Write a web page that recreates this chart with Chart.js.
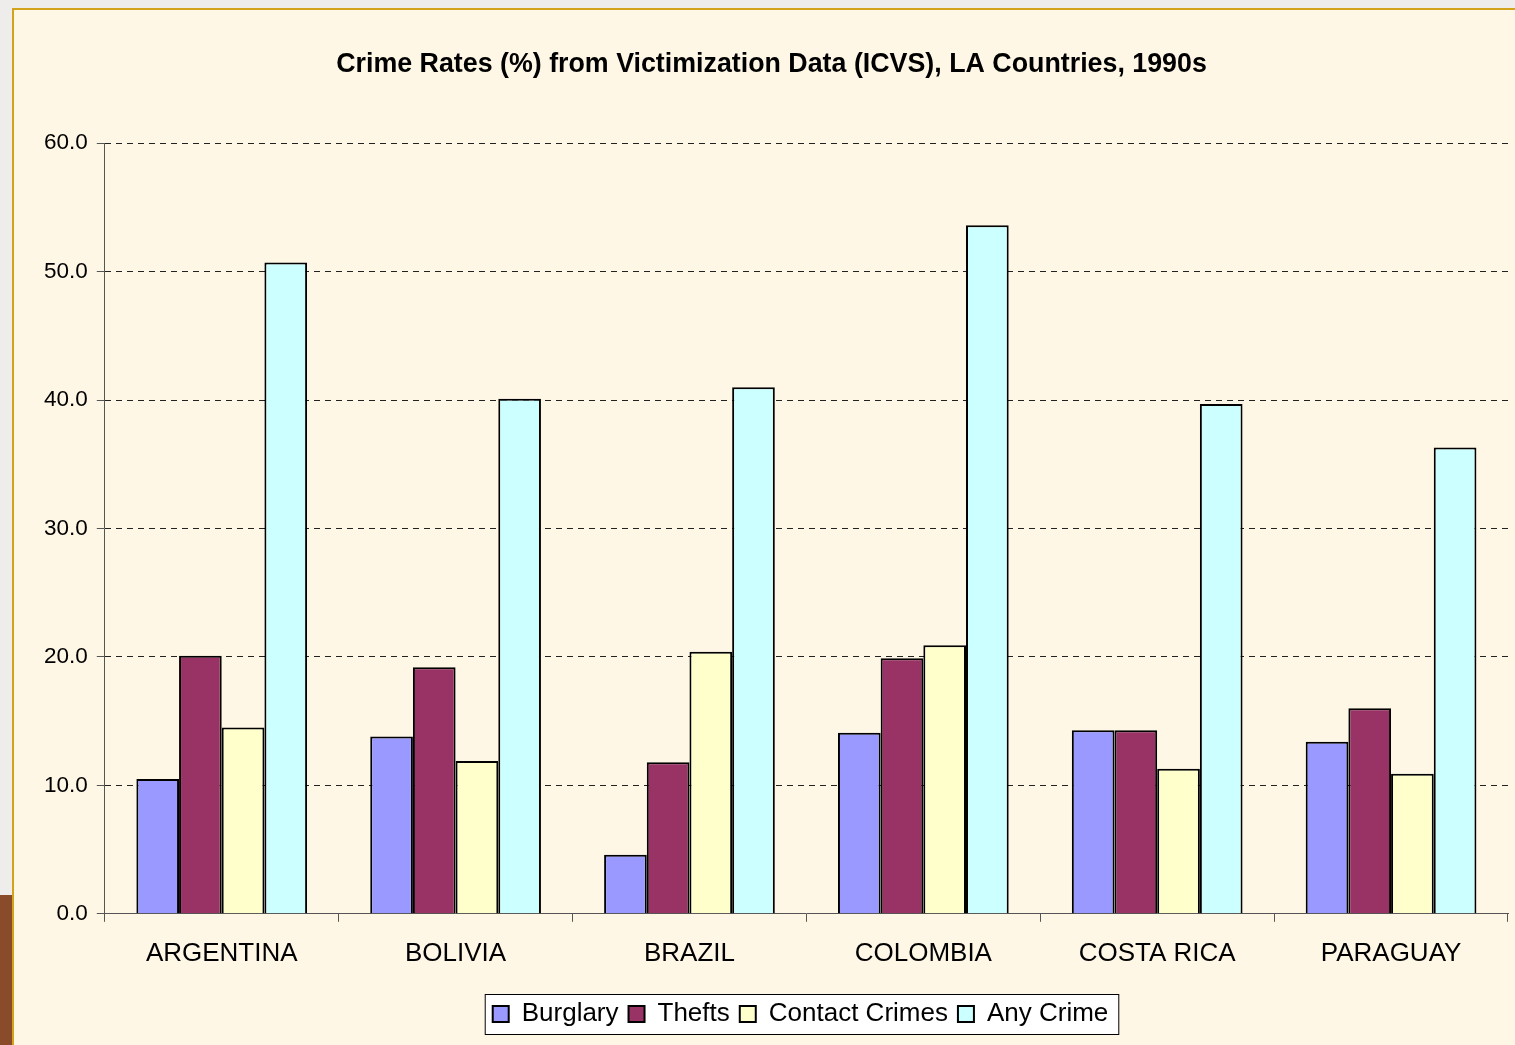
<!DOCTYPE html>
<html>
<head>
<meta charset="utf-8">
<title>Crime Rates (%) from Victimization Data (ICVS), LA Countries, 1990s</title>
<script src="https://cdn.jsdelivr.net/npm/chart.js@4"></script>
<style>
  html, body { margin: 0; padding: 0; width: 1515px; height: 1045px; overflow: hidden; background: #efedeb; }
  #strip { position: absolute; left: 0; top: 895px; width: 14px; height: 150px; background: #8a4b2b; }
  #frame { position: absolute; left: 12px; top: 8px; width: 1540px; height: 1100px;
           border: 2px solid #d4a31c; background: #fff7e6; }
  #wrap { position: absolute; left: 0; top: 0; width: 1520px; height: 1035px; }
</style>
</head>
<body>
<div id="strip"></div>
<div id="frame">
  <div id="wrap"><canvas id="myChart"></canvas></div>
</div>
<script>
var countries = ["ARGENTINA", "BOLIVIA", "BRAZIL", "COLOMBIA", "COSTA RICA", "PARAGUAY"];
var burglary = [10.5, 13.8, 4.6, 14.1, 14.3, 13.4];
var thefts = [20.1, 19.2, 11.8, 19.9, 14.3, 16.0];
var contactCrimes = [14.5, 11.9, 20.4, 20.9, 11.3, 10.9];
var anyCrime = [50.7, 40.1, 41.0, 53.6, 39.7, 36.3];
var yMin = 0, yMax = 60, yStep = 10;

window.onload = function() {
  montarFigura();
};

// the Excel legend sits a bit right of centre and has a white box around it
var legendFrame = {
  id: "legendFrame",
  afterLayout: function(chart) {
    var lg = chart.legend;
    lg.left += 29;
    lg.right += 29;
  },
  beforeDraw: function(chart) {
    var boxes = chart.legend && chart.legend.legendHitBoxes;
    if (!boxes || !boxes.length) return;
    var first = boxes[0], last = boxes[boxes.length - 1];
    var x1 = first.left - 8, x2 = last.left + last.width + 10;
    var y1 = first.top - 7, y2 = first.top + first.height + 7;
    var ctx = chart.ctx;
    ctx.save();
    ctx.fillStyle = "#ffffff";
    ctx.fillRect(x1, y1, x2 - x1, y2 - y1);
    ctx.strokeStyle = "#000000";
    ctx.lineWidth = 1;
    ctx.strokeRect(x1 + 0.5, y1 + 0.5, x2 - x1, y2 - y1);
    ctx.restore();
  }
};

function montarFigura() {
  Chart.defaults.font.family = "'Liberation Sans', Arial, sans-serif";
  Chart.defaults.color = "#000";

  var ctx = document.getElementById("myChart").getContext("2d");
  var chart = new Chart(ctx, {
    type: "bar",
    data: {
      labels: countries,
      datasets: [
        { label: "Burglary", data: burglary, backgroundColor: "#9999ff" },
        { label: "Thefts", data: thefts, backgroundColor: "#993366" },
        { label: "Contact Crimes", data: contactCrimes, backgroundColor: "#ffffcc" },
        { label: "Any Crime", data: anyCrime, backgroundColor: "#ccffff" }
      ]
    },
    options: {
      responsive: true,
      maintainAspectRatio: false,
      animation: false,
      datasets: {
        bar: {
          borderColor: "#000",
          borderWidth: 2,
          categoryPercentage: 0.73,
          barPercentage: 1.0
        }
      },
      layout: { padding: { left: 21, right: 26, top: 0, bottom: 8 } },
      plugins: {
        title: {
          display: true,
          text: "Crime Rates (%) from Victimization Data (ICVS), LA Countries, 1990s",
          font: { size: 26.8, weight: "bold" },
          color: "#000",
          padding: { top: 39, bottom: 62 }
        },
        legend: {
          position: "bottom",
          labels: {
            font: { size: 26 },
            color: "#000",
            boxWidth: 16,
            boxHeight: 16,
            padding: 10
          }
        },
        tooltip: { enabled: false }
      },
      scales: {
        x: {
          grid: {
            offset: true,
            drawOnChartArea: false,
            drawTicks: true,
            tickLength: 8,
            tickColor: "#555",
            color: "#555"
          },
          border: { color: "#555", width: 1 },
          ticks: { font: { size: 26 }, color: "#000", padding: 16 },
          afterFit: function(scale) { scale.height += 6; }
        },
        y: {
          min: yMin,
          max: yMax,
          grid: {
            color: "#222",
            tickColor: "#555",
            tickLength: 8,
            tickBorderDash: [0, 0]
          },
          border: { color: "#555", width: 1, dash: [6, 5] },
          ticks: {
            stepSize: yStep,
            font: { size: 22.5 },
            color: "#000",
            padding: 9,
            callback: function(v) { return v.toFixed(1); }
          }
        }
      }
    },
    plugins: [legendFrame]
  });
}
</script>
</body>
</html>
